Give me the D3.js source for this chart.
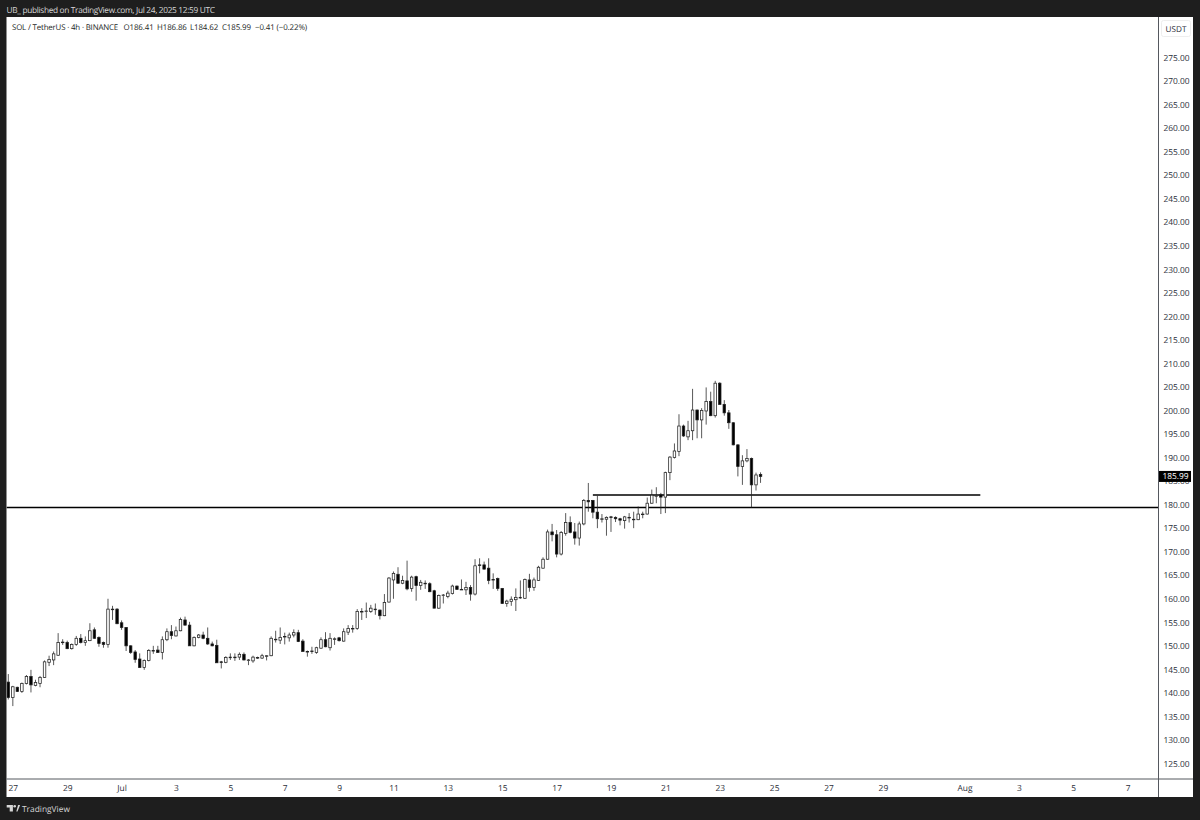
<!DOCTYPE html>
<html>
<head>
<meta charset="utf-8">
<script src="https://cdn.jsdelivr.net/npm/d3@7"></script>
<style>
    html, body { margin: 0; padding: 0; background: #1e1e1e; }
    svg { display: block; }
    text { font-family: "Open Sans", "Noto Sans", sans-serif; text-rendering: geometricPrecision; }
</style>
</head>
<body>
<div id="chart"></div>
<script>
// SOL / USDT 4h candles (first candle is Jun 26 20:00 UTC)
const candleOpen = [
    142.3, 139.0, 141.2, 140.3, 142.0, 143.5, 141.6, 142.0, 143.3, 146.5,
    147.0, 148.0, 150.7, 150.7, 149.4, 150.3, 151.6, 150.7, 151.1, 153.4,
    151.8, 150.7, 150.3, 157.8, 157.8, 154.9, 153.9, 150.0, 148.7, 147.2,
    145.4, 146.9, 149.0, 149.1, 148.6, 151.3, 153.0, 152.1, 153.2, 155.5,
    154.4, 150.0, 151.8, 152.3, 151.6, 150.4, 150.1, 146.6, 146.5, 147.6,
    147.6, 147.6, 148.2, 147.0, 146.8, 147.4, 147.4, 147.9, 147.9, 151.4,
    151.2, 151.9, 151.7, 152.3, 152.8, 151.0, 148.8, 148.9, 148.6, 149.5,
    151.3, 149.6, 151.5, 151.7, 151.0, 152.9, 153.7, 153.7, 157.3, 157.3,
    157.3, 157.8, 157.6, 156.4, 159.3, 164.0, 165.2, 163.3, 163.8, 162.2,
    164.7, 162.8, 163.3, 163.2, 161.7, 158.0, 160.8, 160.5, 161.1, 162.7,
    162.0, 161.9, 162.4, 161.0, 167.2, 167.2, 166.5, 164.1, 164.3, 162.2,
    159.0, 159.4, 159.8, 160.3, 160.1, 164.0, 162.4, 163.9, 166.5, 168.4,
    174.2, 173.6, 169.5, 173.9, 176.2, 174.2, 172.9, 175.9, 180.9, 180.9,
    178.4, 177.0, 176.9, 177.4, 177.3, 177.0, 176.6, 177.2, 176.9, 176.8,
    178.0, 178.0, 180.3, 181.9, 182.1, 181.6, 186.8, 190.0, 191.3, 196.7,
    194.4, 195.7, 200.1, 198.0, 199.9, 201.9, 198.9, 205.8, 201.3, 199.5,
    197.4, 192.7, 188.1, 189.3, 189.8, 184.2, 186.41
];
const candleHigh = [
    144.0, 141.5, 141.3, 142.2, 143.8, 144.9, 142.8, 143.6, 146.9, 147.9,
    148.8, 152.7, 151.4, 151.1, 150.5, 152.1, 152.5, 152.0, 154.8, 153.9,
    152.0, 150.9, 160.0, 158.5, 158.0, 155.4, 154.0, 150.1, 149.1, 148.4,
    147.1, 149.3, 150.0, 150.0, 152.0, 153.7, 154.4, 154.1, 156.0, 156.2,
    155.1, 152.0, 152.5, 153.0, 153.9, 150.9, 151.3, 146.8, 147.8, 148.4,
    148.4, 148.6, 148.6, 147.2, 147.9, 147.7, 148.3, 148.0, 152.0, 153.2,
    153.9, 152.8, 152.8, 153.5, 153.4, 151.4, 149.0, 149.8, 149.8, 151.8,
    152.9, 152.7, 151.8, 151.9, 153.7, 154.4, 154.4, 157.8, 158.0, 159.2,
    158.7, 159.0, 157.7, 161.0, 164.6, 165.8, 166.7, 164.9, 168.1, 164.9,
    164.9, 164.0, 163.9, 163.5, 161.9, 160.9, 161.0, 161.7, 163.0, 162.8,
    164.1, 163.6, 162.9, 168.4, 168.6, 167.9, 168.6, 165.4, 164.5, 162.3,
    159.8, 160.5, 162.2, 163.9, 164.3, 165.3, 164.5, 167.0, 168.8, 174.7,
    175.9, 174.6, 174.4, 178.2, 177.5, 176.1, 176.4, 181.2, 184.6, 181.0,
    181.9, 178.0, 177.5, 177.6, 177.5, 177.2, 177.6, 178.2, 178.5, 179.6,
    178.5, 181.5, 183.2, 183.7, 182.5, 187.0, 190.3, 193.0, 199.2, 197.0,
    197.8, 204.6, 200.2, 200.5, 204.9, 204.0, 206.3, 206.0, 202.2, 200.1,
    197.5, 192.8, 190.5, 191.8, 190.0, 186.8, 186.86
];
const candleLow = [
    138.6, 137.2, 140.2, 140.0, 141.8, 140.1, 141.4, 141.2, 143.2, 145.7,
    145.9, 147.9, 150.2, 149.3, 149.2, 150.0, 150.5, 150.0, 151.0, 151.5,
    149.8, 149.6, 149.6, 155.5, 154.6, 153.4, 148.9, 148.3, 146.4, 145.3,
    144.9, 146.7, 148.3, 148.5, 147.1, 151.0, 151.4, 152.0, 153.1, 154.3,
    150.0, 149.9, 151.6, 151.4, 150.2, 149.9, 146.4, 145.2, 146.3, 147.0,
    146.8, 147.0, 146.9, 145.9, 146.4, 147.2, 147.2, 146.9, 147.8, 150.7,
    150.4, 150.3, 150.9, 151.8, 150.8, 148.8, 147.7, 148.3, 148.3, 149.4,
    149.7, 149.0, 150.2, 150.9, 150.9, 152.3, 152.8, 153.4, 155.5, 155.9,
    157.0, 156.6, 155.6, 156.3, 159.2, 160.0, 163.2, 163.1, 161.8, 161.5,
    159.6, 161.9, 162.1, 161.4, 158.0, 157.9, 159.0, 160.1, 160.9, 161.9,
    161.9, 160.8, 159.6, 160.7, 165.4, 166.2, 163.1, 162.1, 161.7, 158.9,
    158.3, 158.5, 157.4, 160.0, 160.0, 161.5, 161.7, 163.8, 166.4, 168.3,
    172.2, 168.8, 169.2, 173.4, 173.9, 171.5, 171.3, 175.6, 178.5, 177.1,
    175.0, 176.2, 173.4, 174.2, 176.3, 175.6, 174.9, 176.2, 175.0, 176.7,
    177.1, 177.9, 180.2, 180.3, 178.0, 178.2, 185.2, 189.8, 190.3, 194.4,
    193.7, 193.7, 194.1, 194.1, 197.0, 198.8, 198.5, 201.2, 198.9, 196.1,
    192.6, 186.0, 184.2, 189.0, 179.4, 183.0, 184.62
];
const candleClose = [
    139.0, 141.3, 140.3, 142.0, 143.5, 141.7, 142.2, 143.3, 146.6, 147.1,
    148.3, 150.7, 150.8, 149.4, 150.3, 151.6, 150.7, 151.1, 153.2, 151.6,
    150.5, 150.3, 157.8, 157.7, 154.7, 153.9, 150.0, 148.6, 147.1, 145.4,
    146.9, 149.0, 149.0, 148.6, 151.3, 153.0, 152.2, 153.2, 155.6, 154.4,
    150.0, 151.8, 152.3, 151.6, 150.4, 150.0, 146.4, 146.5, 147.5, 147.6,
    147.6, 148.2, 147.0, 147.0, 147.6, 147.5, 147.9, 147.9, 151.6, 151.4,
    151.8, 152.0, 152.3, 152.8, 150.9, 148.8, 148.8, 148.8, 149.6, 151.3,
    149.8, 151.6, 151.5, 151.1, 153.0, 153.7, 153.7, 157.3, 157.3, 157.4,
    158.0, 157.8, 156.4, 159.2, 164.4, 165.4, 163.3, 163.9, 162.1, 164.6,
    162.8, 163.5, 163.2, 161.5, 158.0, 160.7, 160.8, 161.2, 162.7, 162.0,
    162.0, 162.4, 161.0, 167.0, 167.1, 166.3, 163.9, 164.1, 162.2, 159.0,
    159.5, 159.9, 160.3, 160.3, 164.1, 162.4, 164.0, 166.7, 168.4, 174.2,
    173.6, 169.5, 174.1, 176.2, 174.1, 172.9, 175.9, 180.9, 180.6, 178.4,
    177.0, 177.0, 177.3, 177.3, 177.0, 176.7, 177.4, 177.3, 176.9, 178.0,
    178.0, 180.3, 182.0, 181.9, 181.6, 186.8, 190.1, 191.4, 196.7, 194.6,
    195.7, 200.1, 198.0, 200.0, 201.9, 198.9, 205.8, 201.3, 199.5, 197.4,
    192.7, 188.1, 189.3, 189.8, 184.2, 186.3, 185.99
];

// Axis labels
const priceTicks = d3.range(125, 280, 5);
const timeTickDates = [
    '2025-06-27', '2025-06-29', '2025-07-01', '2025-07-03', '2025-07-05', '2025-07-07',
    '2025-07-09', '2025-07-11', '2025-07-13', '2025-07-15', '2025-07-17', '2025-07-19',
    '2025-07-21', '2025-07-23', '2025-07-25', '2025-07-27', '2025-07-29', '2025-08-01',
    '2025-08-03', '2025-08-05', '2025-08-07'
];
const timeTickLabels = [
    '27', '29', 'Jul', '3', '5', '7', '9', '11', '13', '15', '17', '19',
    '21', '23', '25', '27', '29', 'Aug', '3', '5', '7'
];

// Drawn levels
const supportPrice = 179.4;
const boxPrice = 182.05;
const boxStart = '2025-07-18T08:00Z';
const boxEnd = '2025-08-01T14:00Z';

const lastPrice = 185.99;
const headerText = 'UB_ published on TradingView.com, Jul 24, 2025 12:59 UTC';
const symbolText = 'SOL / TetherUS · 4h · BINANCE';
const ohlcText = ['O186.41', 'H186.86', 'L184.62', 'C185.99', '−0.41 (−0.22%)'];

const firstCandle = Date.UTC(2025, 5, 26, 20);
const candleTime = candleOpen.map((d, i) => new Date(firstCandle + i * 4 * 3600 * 1000));

// Frame layout
const width = 1200, height = 820;
const plot = { left: 6.5, right: 1158.5, top: 17, bottom: 779 };
const frameRight = 1193, frameBottom = 797;

const x = d3.scaleUtc()
    .domain([new Date('2025-06-27T00:00Z'), new Date('2025-08-07T00:00Z')])
    .range([12.83, 1127.6]);
const y = d3.scaleLinear().domain([125, 275]).range([763.5, 57.5]);

const svg = d3.select('#chart').append('svg').attr('width', width).attr('height', height);

svg.append('rect').attr('width', width).attr('height', height).attr('fill', '#1e1e1e');
svg.append('rect')
    .attr('x', plot.left).attr('y', plot.top)
    .attr('width', frameRight - plot.left).attr('height', frameBottom - plot.top)
    .attr('fill', '#ffffff');

svg.append('defs').append('clipPath').attr('id', 'plotClip').append('rect')
    .attr('x', plot.left).attr('y', plot.top)
    .attr('width', plot.right - plot.left).attr('height', plot.bottom - plot.top);

const marks = svg.append('g').attr('clip-path', 'url(#plotClip)');

// Horizontal levels
marks.append('line')
    .attr('x1', plot.left).attr('x2', plot.right)
    .attr('y1', y(supportPrice)).attr('y2', y(supportPrice))
    .attr('stroke', '#000').attr('stroke-width', 1.4);
marks.append('line')
    .attr('x1', x(new Date(boxStart))).attr('x2', x(new Date(boxEnd)))
    .attr('y1', y(boxPrice)).attr('y2', y(boxPrice))
    .attr('stroke', '#000').attr('stroke-width', 1.4);

// Candles
const candles = marks.selectAll('g.candle')
    .data(candleOpen.map((d, i) => i))
    .enter().append('g').attr('class', 'candle');

candles.append('line')
    .attr('x1', i => x(candleTime[i])).attr('x2', i => x(candleTime[i]))
    .attr('y1', i => y(candleHigh[i])).attr('y2', i => y(candleLow[i]))
    .attr('stroke', '#222').attr('stroke-width', 0.75);

candles.append('rect')
    .attr('x', i => x(candleTime[i]) - 1.25)
    .attr('width', 2.5)
    .attr('y', i => y(Math.max(candleOpen[i], candleClose[i])))
    .attr('height', i => Math.max(0.6, Math.abs(y(candleOpen[i]) - y(candleClose[i]))))
    .attr('fill', i => candleClose[i] >= candleOpen[i] ? '#fff' : '#000')
    .attr('stroke', '#222').attr('stroke-width', 0.75);

// Price axis
const priceAxis = svg.append('g')
    .attr('transform', `translate(${plot.right},0)`)
    .call(d3.axisRight(y).tickValues(priceTicks).tickSize(0).tickPadding(5).tickFormat(d3.format('.2f')));
priceAxis.select('.domain').remove();
priceAxis.selectAll('text')
    .attr('fill', '#2a2e39').style('font-size', '8.4px');

// Time axis
const timeAxis = svg.append('g')
    .attr('transform', `translate(0,${plot.bottom})`)
    .call(d3.axisBottom(x)
        .tickValues(timeTickDates.map(d => new Date(d + 'T00:00Z')))
        .tickSize(0).tickPadding(6)
        .tickFormat((d, i) => timeTickLabels[i]));
timeAxis.select('.domain').remove();
timeAxis.selectAll('text')
    .attr('fill', '#2a2e39').style('font-size', '8.4px');

// Frame lines
const frameColor = '#55585f';
svg.append('line')
    .attr('x1', plot.right).attr('x2', plot.right)
    .attr('y1', plot.top).attr('y2', frameBottom)
    .attr('stroke', frameColor).attr('stroke-width', 1);
svg.append('line')
    .attr('x1', plot.left).attr('x2', frameRight)
    .attr('y1', plot.bottom).attr('y2', plot.bottom)
    .attr('stroke', frameColor).attr('stroke-width', 1);

// Currency badge
svg.append('rect')
    .attr('x', 1161.5).attr('y', 20.5).attr('width', 29).attr('height', 16).attr('rx', 2)
    .attr('fill', '#fff').attr('stroke', '#eeeeee');
svg.append('text')
    .attr('x', 1176).attr('y', 32.3).attr('text-anchor', 'middle')
    .attr('fill', '#2a2e39').style('font-size', '8.2px')
    .text('USDT');

// Last price badge
svg.append('rect')
    .attr('x', plot.right + 0.5).attr('y', y(lastPrice) - 5.5)
    .attr('width', 32).attr('height', 11)
    .attr('fill', '#000');
svg.append('text')
    .attr('x', 1175.5).attr('y', y(lastPrice) + 3).attr('text-anchor', 'middle')
    .attr('fill', '#fff').style('font-size', '8.4px')
    .text(d3.format('.2f')(lastPrice));

// Header and legend text
svg.append('text')
    .attr('x', 6.5).attr('y', 12.5)
    .attr('fill', '#d6d6d6').style('font-size', '8.3px').style('letter-spacing', '-0.32px')
    .text(headerText);

svg.append('text')
    .attr('x', 12).attr('y', 30)
    .attr('fill', '#1c1f26').style('font-size', '7.9px').style('letter-spacing', '-0.17px')
    .text(symbolText);

const ohlcX = [123.5, 157, 190, 222, 255];
svg.selectAll('text.ohlc')
    .data(ohlcText)
    .enter().append('text')
    .attr('class', 'ohlc')
    .attr('x', (d, i) => ohlcX[i]).attr('y', 30)
    .attr('fill', '#1c1f26').style('font-size', '7.9px').style('letter-spacing', '-0.1px')
    .text(d => d);

// TradingView logo
const logo = svg.append('g').attr('transform', 'translate(6.7,805)').attr('fill', '#d6d6d6');
logo.append('path').attr('d', 'M0 0H6.2V6.6H3V2.6H0Z');
logo.append('circle').attr('cx', 8).attr('cy', 1.3).attr('r', 1.3);
logo.append('path').attr('d', 'M9.6 6.6L11.4 0H13.4L10.8 6.6Z');
svg.append('text')
    .attr('x', 22).attr('y', 811.5)
    .attr('fill', '#d6d6d6').style('font-size', '8.4px').style('font-weight', 500)
    .text('TradingView');
</script>
</body>
</html>
